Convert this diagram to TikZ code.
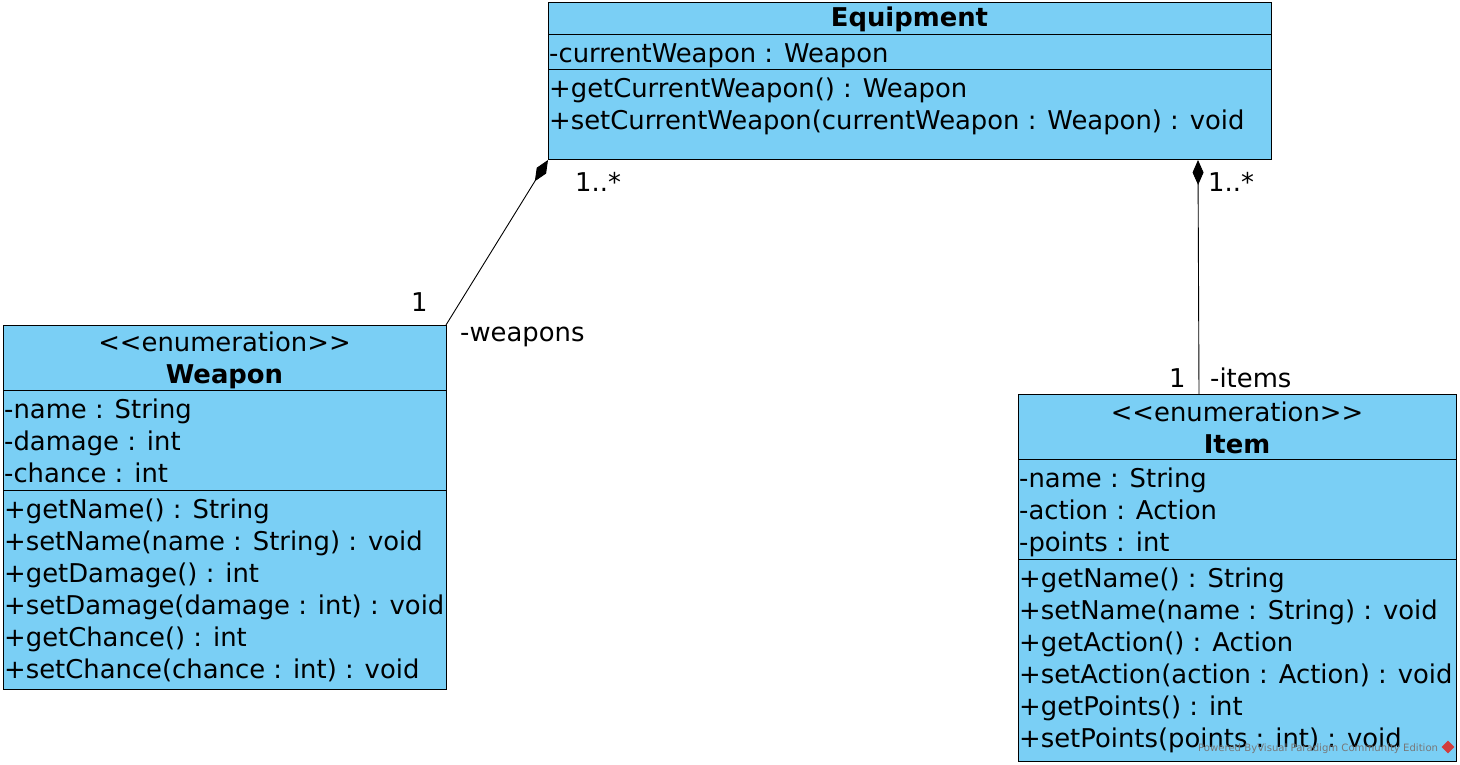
\documentclass[tikz,border=0pt]{standalone}
\usepackage{fontspec}
\setmainfont{DejaVu Sans}
\usetikzlibrary{arrows.meta}
\definecolor{vpblue}{RGB}{122,207,245}
\definecolor{wmgray}{RGB}{120,120,120}
\definecolor{wmred}{RGB}{210,60,60}
\begin{document}
\begin{tikzpicture}[x=1pt,y=-1pt,
  box/.style={draw=black, fill=vpblue, line width=1pt, anchor=north west, inner sep=0pt, outer sep=0pt},
  sep/.style={draw=black, line width=1pt},
  txt/.style={anchor=base west, inner sep=0pt, font=\fontsize{25.85}{32}\selectfont},
  ttl/.style={anchor=base, inner sep=0pt, font=\fontsize{25.85}{32}\selectfont},
  bttl/.style={anchor=base, inner sep=0pt, font=\fontsize{25.85}{32}\selectfont\bfseries},
  lbl/.style={anchor=base west, inner sep=0pt, font=\fontsize{25.85}{32}\selectfont},
  conn/.style={draw=black, line width=0.9pt},
  comp/.style={{Diamond[length=25pt,width=11pt]}-}
]
\useasboundingbox (0,0) rectangle (1460,765);
\fill[white] (0,0) rectangle (1460,765);

% ---------- Equipment ----------
\node[box, minimum width=723pt, minimum height=157pt] (equip) at (548,3) {};
\draw[sep] (548,35) -- (1271,35);
\draw[sep] (548,70) -- (1271,70);
\node[bttl] (eqT) at (909.5,27) {Equipment};
\node[txt] (eqA1) at (549,63) {-currentWeapon : Weapon};
\node[txt] (eqO1) at (549,98) {+getCurrentWeapon() : Weapon};
\node[txt] (eqO2) at (549,130) {+setCurrentWeapon(currentWeapon : Weapon) : void};

% ---------- Weapon ----------
\node[box, minimum width=443pt, minimum height=364pt] (weapon) at (3,325) {};
\draw[sep] (3,390) -- (446,390);
\draw[sep] (3,490) -- (446,490);
\node[ttl] (wS) at (224.5,351) {<{}<enumeration>{}>};
\node[bttl] (wT) at (224.5,383) {Weapon};
\foreach \t [count=\i] in {-name : String,-damage : int,-chance : int}
  \node[txt] (wA\i) at (4,386+32*\i) {\t};
\foreach \t [count=\i] in {+getName() : String,+setName(name : String) : void,+getDamage() : int,+setDamage(damage : int) : void,+getChance() : int,+setChance(chance : int) : void}
  \node[txt] (wO\i) at (4,486+32*\i) {\t};

% ---------- Item ----------
\node[box, minimum width=438pt, minimum height=367pt] (item) at (1018,394) {};
\draw[sep] (1018,459) -- (1456,459);
\draw[sep] (1018,559) -- (1456,559);
\node[ttl] (iS) at (1237,421) {<{}<enumeration>{}>};
\node[bttl] (iT) at (1237,453) {Item};
\foreach \t [count=\i] in {-name : String,-action : Action,-points : int}
  \node[txt] (iA\i) at (1019,455+32*\i) {\t};
\foreach \t [count=\i] in {+getName() : String,+setName(name : String) : void,+getAction() : Action,+setAction(action : Action) : void,+getPoints() : int,+setPoints(points : int) : void}
  \node[txt] (iO\i) at (1019,555+32*\i) {\t};

% watermark
\node[anchor=base west, inner sep=0pt, text=wmgray, font=\fontsize{10.1}{11}\selectfont] (wm) at (1198,751) {Powered ByVisual Paradigm Community Edition};
\node[shape=rectangle, fill=wmred, inner sep=0pt, rotate=45, minimum size=9pt] (wmlogo) at (1448,747) {};

% ---------- Connectors ----------
\coordinate (eqR) at ([xshift=650pt]equip.south west);
\coordinate (itR) at ([xshift=181pt]item.north west);
\draw[conn, comp] (equip.south west) -- (weapon.north east);
\draw[conn, comp] (eqR) -- (itR);

% labels
\node[lbl] (m1) at (575,192) {1..*};
\node[lbl] (m2) at (1208,192) {1..*};
\node[lbl] (m3) at (411,311) {1};
\node[lbl] (r1) at (460,341) {-weapons};
\node[lbl] (m4) at (1169,387) {1};
\node[lbl] (r2) at (1210,387) {-items};
\end{tikzpicture}
\end{document}
